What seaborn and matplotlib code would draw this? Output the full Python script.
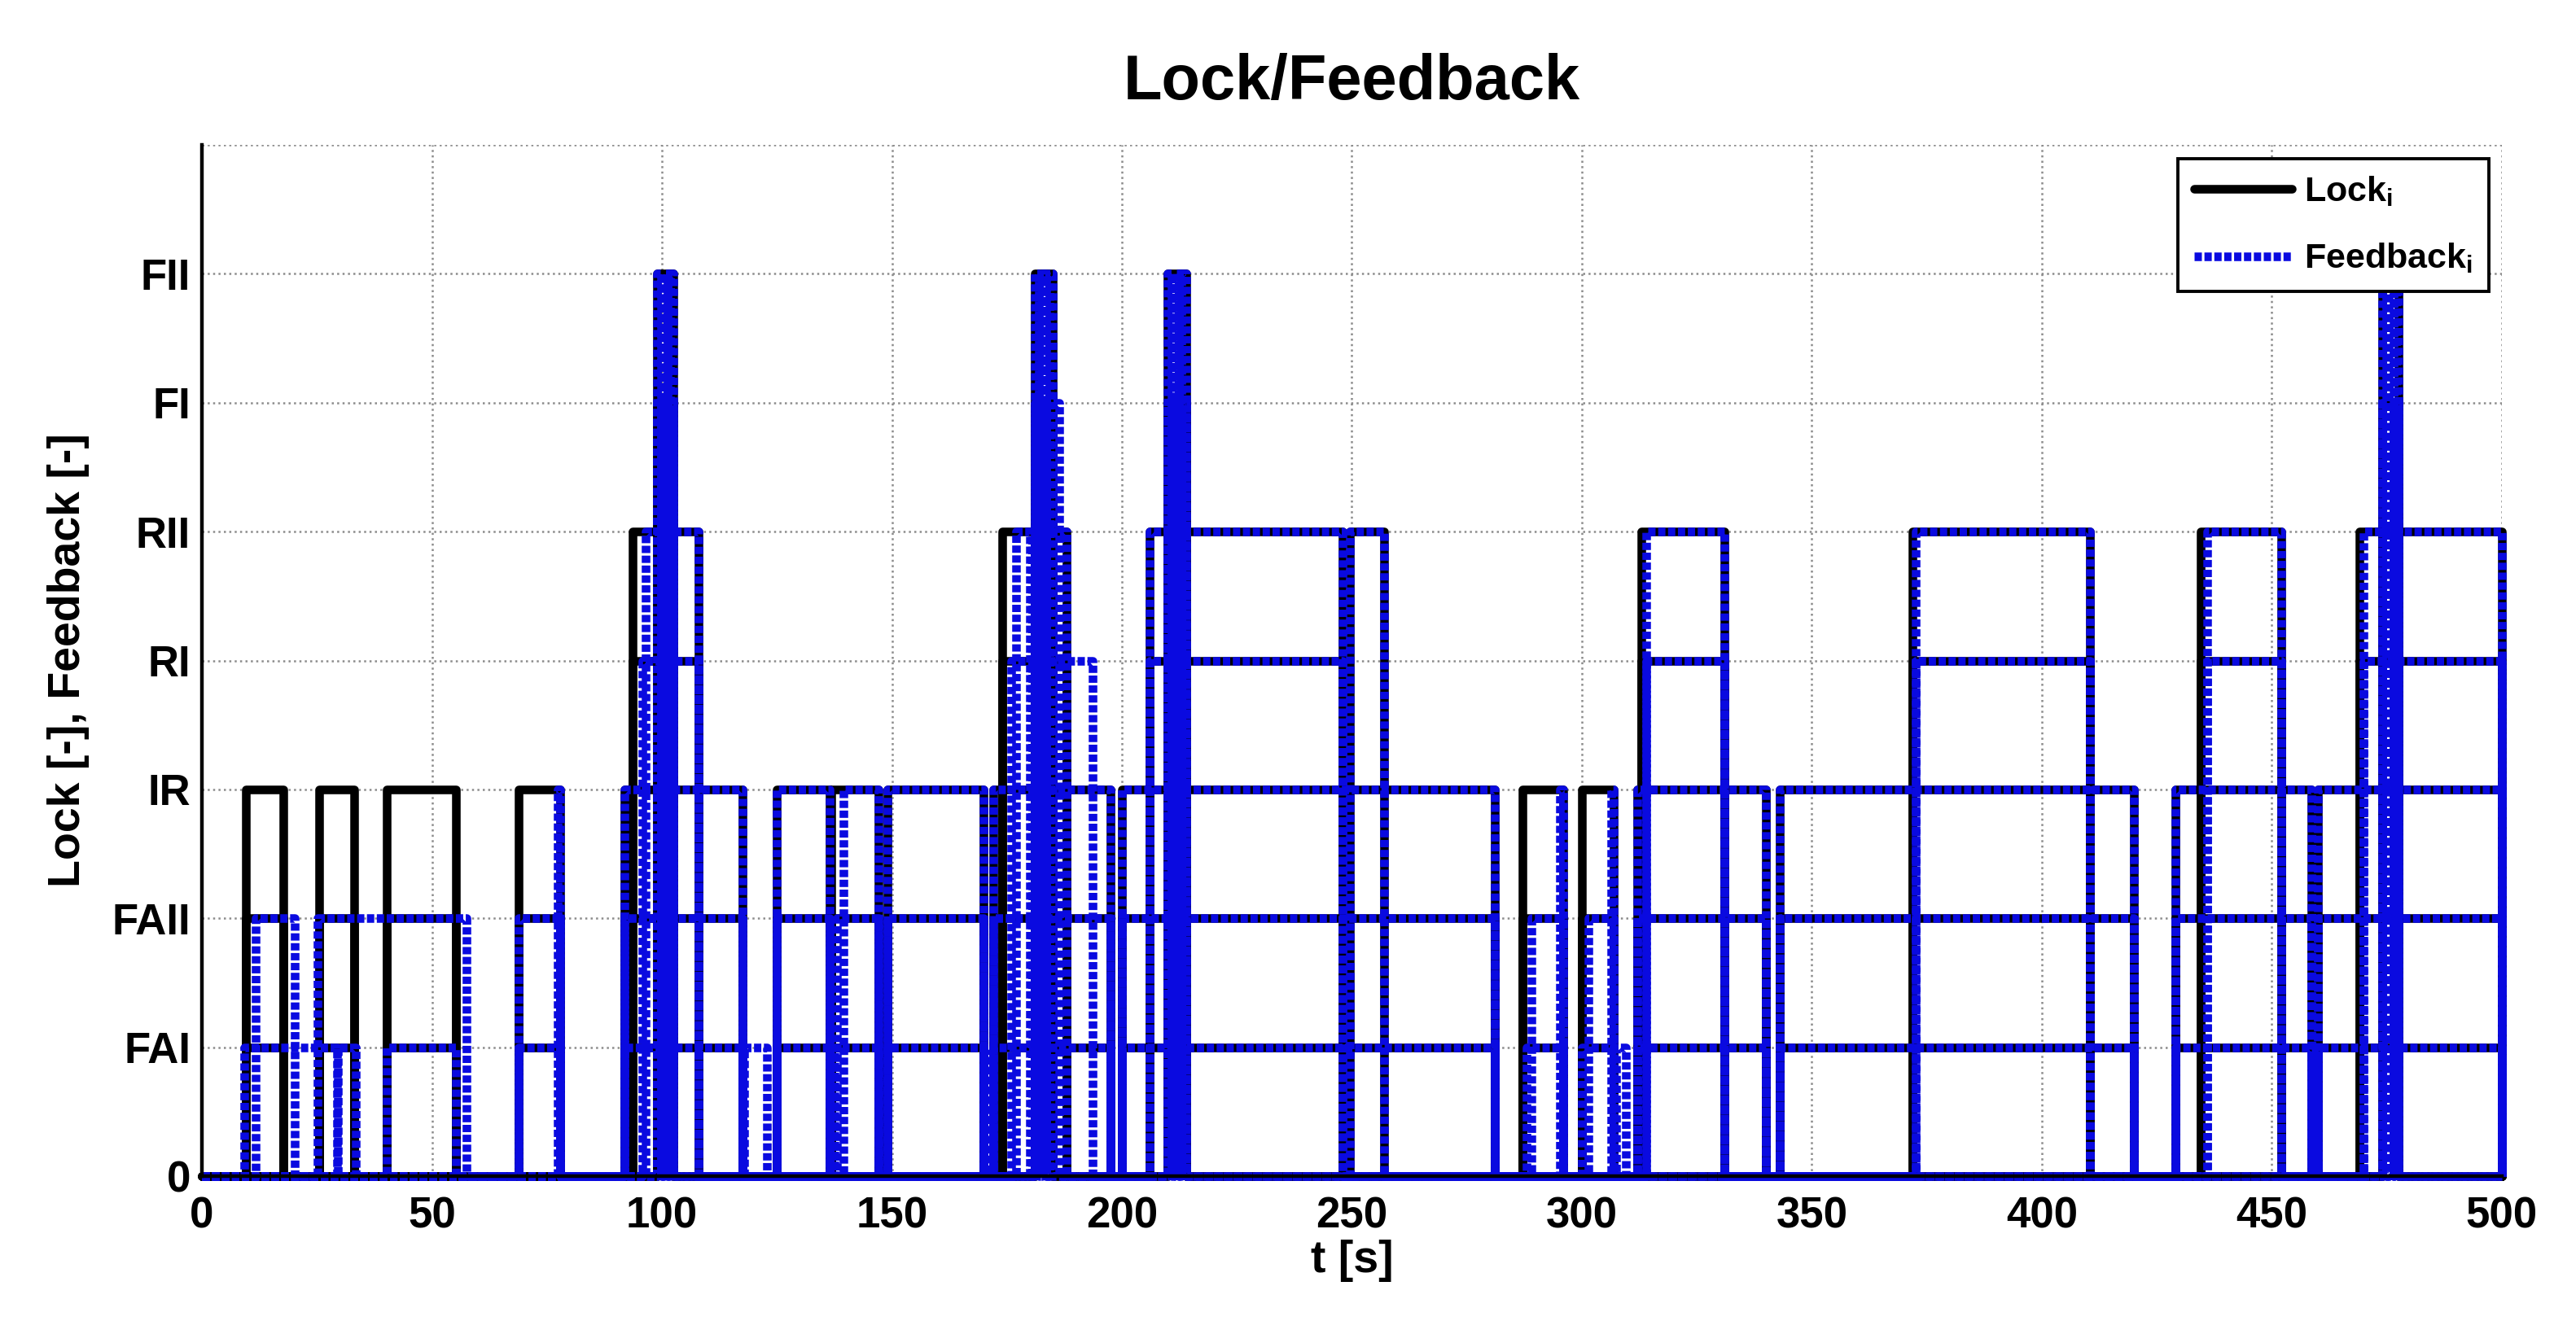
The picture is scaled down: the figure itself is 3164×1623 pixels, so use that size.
import matplotlib
matplotlib.use('Agg')
import matplotlib.pyplot as plt
import seaborn as sns
import pandas as pd
from matplotlib.lines import Line2D

T_END = 500
level_labels = ['0', 'FAI', 'FAII', 'IR', 'RI', 'RII', 'FI', 'FII', '']
x_ticks = list(range(0, 501, 50))

# on-intervals [s] of each Lock_i signal (signal jumps 0 -> level i)
lock_FAI = [(9.5, 17.7), (25.4, 33.1), (40.2, 55.2), (68.8, 77.9), (91.8, 117.5), (125, 136.4),
            (136.8, 147), (149, 170), (172, 197.5), (200, 281), (287, 296), (300, 307),
            (312, 340), (343, 420), (429, 458.6), (460, 500)]
lock_FAII = [(9.5, 17.7), (25.4, 33.1), (40.2, 55.2), (68.8, 77.9), (91.8, 117.5), (125, 136.4),
             (136.8, 147), (149, 170), (172, 197.5), (200, 281), (287, 296), (300, 307),
             (312, 340), (343, 420), (429, 458.6), (460, 500)]
lock_IR = [(9.5, 17.7), (25.4, 33.1), (40.2, 55.2), (68.8, 77.9), (91.8, 117.5), (125, 136.4),
           (136.8, 147), (149, 170), (172, 197.5), (200, 281), (287, 296), (300, 307),
           (312, 340), (343, 420), (429, 458.6), (460, 500)]
lock_RI = [(93.6, 108), (174, 188), (206, 248), (313, 331), (371.8, 410.4), (434.6, 452), (469, 500)]
lock_RII = [(93.6, 108), (174, 188), (206, 248), (249.6, 257), (313, 331), (371.8, 410.4),
            (434.6, 452), (469, 500)]
lock_FI = [(99, 102.5), (181, 185), (210, 214), (474, 477.5)]
lock_FII = [(99, 102.5), (181, 185), (210, 214), (474, 477.5)]

# on-intervals [s] of each Feedback_i signal
fb_FAI = [(9.2, 29.3), (29.6, 33.4), (40.2, 55.2), (68.8, 77.9), (91.8, 117.5), (117.8, 122.8),
          (125, 136.4), (137.5, 147), (149, 170), (170.4, 171.4), (172, 197.5), (200, 281),
          (288, 296), (300, 307), (307.5, 309.6), (312, 340), (343, 420), (429, 458.6), (460, 500)]
fb_FAII = [(11.6, 20.1), (25.1, 57.6), (68.8, 77.9), (91.8, 117.5), (125, 136.4), (138, 147),
           (149, 170), (172, 197.5), (200, 281), (289, 296), (301.5, 307), (312, 340),
           (343, 420), (429, 458.6), (460, 500)]
fb_IR = [(77.3, 77.9), (91.8, 117.5), (125, 136.4), (139.5, 147), (149, 170), (172, 197.5),
         (200, 281), (295.3, 296), (306.3, 307), (312, 340), (343, 420), (429, 458.6), (460, 500)]
fb_RI = [(95.7, 108), (176, 193.6), (206, 248), (314, 331), (372.5, 410.4), (436, 452), (470, 500)]
fb_RII = [(96.4, 108), (177, 180), (180.5, 188), (206, 248), (249.6, 257), (314, 331),
          (372.5, 410.4), (436, 452), (470, 500)]
fb_FI = [(99, 99.8), (100.3, 101.2), (101.7, 102.5), (181, 182), (182.6, 183.6), (184.2, 186.4),
         (210, 210.8), (211.4, 212.4), (213, 214), (474, 474.8), (475.4, 476.4), (477, 477.5)]
fb_FII = [(99, 99.8), (100.3, 101.2), (101.7, 102.5), (181, 182), (182.6, 183.6), (184.2, 185),
          (210, 210.8), (211.4, 212.4), (213, 214), (474, 474.8), (475.4, 476.4), (477, 477.5)]

lock_sets = [lock_FAI, lock_FAII, lock_IR, lock_RI, lock_RII, lock_FI, lock_FII]
fb_sets = [fb_FAI, fb_FAII, fb_IR, fb_RI, fb_RII, fb_FI, fb_FII]


def steps(intervals, level):
    """Turn on-intervals into a rectangular 0/level signal."""
    t, v = [0.0], [0.0]
    for a, b in intervals:
        t += [a, a, b, b]
        v += [0, level, level, 0]
    t.append(T_END)
    v.append(0)
    return pd.DataFrame({'t': t, 'v': v, 'level': level})


lock_df = pd.concat([steps(iv, k) for k, iv in enumerate(lock_sets, start=1)], ignore_index=True)
fb_df = pd.concat([steps(iv, k) for k, iv in enumerate(fb_sets, start=1)], ignore_index=True)

sns.set_style('white')
plt.rcParams['font.family'] = ['Liberation Sans', 'DejaVu Sans']
plt.rcParams['font.weight'] = 'bold'
for key in ['text.color', 'axes.labelcolor', 'xtick.color', 'ytick.color']:
    plt.rcParams[key] = 'black'

BLUE = '#0a0ae0'
LW = 3.8
FB_DASH = (0, (0.85, 0.3))

fig = plt.figure(figsize=(15.82, 8.115), dpi=200)
ax = fig.add_axes([0.0784, 0.1097, 0.8928, 0.7806])

sns.lineplot(data=lock_df, x='t', y='v', units='level', estimator=None, sort=False,
             color='black', linewidth=LW, ax=ax, legend=False, clip_on=False)
sns.lineplot(data=fb_df, x='t', y='v', units='level', estimator=None, sort=False,
             color=BLUE, linewidth=LW, linestyle=FB_DASH, ax=ax, legend=False, clip_on=False)

ax.set_xlim(0, T_END)
ax.set_ylim(0, 8)
ax.set_xticks(x_ticks)
ax.set_xticklabels([str(x) for x in x_ticks])
ax.set_yticks(range(len(level_labels)))
ax.set_yticklabels(level_labels)
ax.tick_params(axis='both', direction='in', length=5, width=1.4, labelsize=19)
ax.tick_params(axis='x', pad=9)
ax.tick_params(axis='y', pad=5)
ax.grid(True, color='0.55', linestyle=':', linewidth=0.9)
for s in ['left', 'bottom']:
    ax.spines[s].set_color('black')
    ax.spines[s].set_linewidth(1.6)
for s in ['top', 'right']:
    ax.spines[s].set_visible(False)

ax.set_title('Lock/Feedback', fontsize=28, fontweight='bold', pad=20)
ax.set_xlabel('t [s]', fontsize=20, fontweight='bold', labelpad=1)
ax.set_ylabel('Lock [-], Feedback [-]', fontsize=20, fontweight='bold', labelpad=10)

handles = [Line2D([], [], color='black', linewidth=LW),
           Line2D([], [], color=BLUE, linewidth=LW, linestyle=FB_DASH)]
leg = ax.legend(handles, [r'Lock$_\mathregular{i}$', r'Feedback$_\mathregular{i}$'],
                loc='upper right', bbox_to_anchor=(0.9943, 0.987), fancybox=False,
                framealpha=1, edgecolor='black', handlelength=2.8, handletextpad=0.35,
                borderpad=0.45, labelspacing=0.95, borderaxespad=0,
                prop={'size': 15.5, 'weight': 'bold'})
leg.get_frame().set_linewidth(1.4)

fig.savefig('out.png', dpi=200)
